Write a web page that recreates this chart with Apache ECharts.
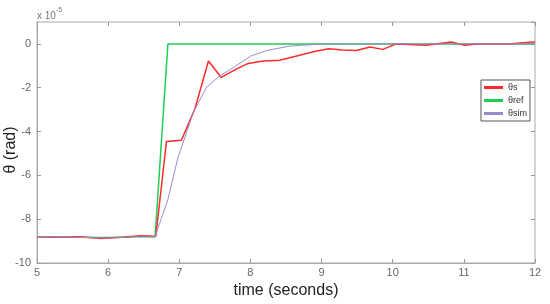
<!DOCTYPE html>
<html>
<head>
<meta charset="utf-8">
<script src="https://cdn.jsdelivr.net/npm/echarts@6/dist/echarts.min.js"></script>
<style>
  html, body { margin: 0; padding: 0; background: #fff; }
  #main { width: 550px; height: 304px; }
</style>
</head>
<body>
<div id="main"></div>
<script>
// measured traces (x10^-5 rad)
var tS = [5.0, 5.3, 5.6, 5.9, 6.2, 6.45, 6.67, 6.82, 7.03, 7.22, 7.41, 7.59, 7.8, 7.97, 8.18, 8.41, 8.65, 8.9, 9.1, 9.3, 9.49, 9.68, 9.86, 10.05, 10.47, 10.82, 11.01, 11.18, 11.62, 11.97, 12.0];
var yS = [-8.8, -8.83, -8.8, -8.88, -8.82, -8.76, -8.78, -4.45, -4.4, -2.96, -0.78, -1.53, -1.15, -0.89, -0.78, -0.75, -0.55, -0.35, -0.22, -0.28, -0.3, -0.14, -0.25, 0.0, -0.06, 0.09, -0.06, 0.0, 0.0, 0.09, 0.09];
var tRef = [5.0, 5.5, 6.0, 6.4, 6.66, 6.84, 12.0];
var yRef = [-8.8, -8.82, -8.84, -8.8, -8.8, 0, 0];
var tSim = [5.0, 5.5, 6.0, 6.4, 6.66, 6.84, 6.98, 7.2, 7.38, 7.57, 7.76, 8.0, 8.23, 8.55, 8.88, 9.3, 12.0];
var ySim = [-8.8, -8.82, -8.86, -8.8, -8.8, -7.1, -5.2, -3.11, -1.99, -1.46, -1.08, -0.56, -0.3, -0.1, -0.03, 0, 0];
var seriesNames = ['θs', 'θref', 'θsim'];
var seriesColors = ['#ff2a2a', '#1fcc55', '#9a8ccc'];

function pairs(xs, ys) {
    var out = [];
    for (var i = 0; i < xs.length; i++) out.push([xs[i], ys[i]]);
    return out;
}

var chart = echarts.init(document.getElementById('main'));
var tickColor = '#999';
var labelStyle = { color: '#666', fontSize: 11, fontFamily: 'Liberation Sans' };

var option = {
    animation: false,
    backgroundColor: '#fff',
    grid: { left: 37, right: 15, top: 22, bottom: 41, show: true, borderColor: '#aaa', borderWidth: 1, outerBoundsMode: 'none', containLabel: false },
    legend: {
        orient: 'vertical',
        left: 481, top: 80,
        itemWidth: 19, itemHeight: 3,
        itemGap: 4,
        padding: [3, 3, 3, 3],
        icon: 'rect',
        backgroundColor: '#fff',
        borderColor: '#555', borderWidth: 1,
        textStyle: { color: '#333', fontSize: 9, fontFamily: 'Liberation Sans' },
        data: seriesNames
    },
    xAxis: [{
        type: 'value', min: 5, max: 12, interval: 1,
        name: 'time (seconds)', nameLocation: 'middle', nameGap: 10,
        nameTextStyle: { color: '#222', fontSize: 16, fontFamily: 'Liberation Sans' },
        axisLine: { show: true, onZero: false, lineStyle: { color: '#aaa' } },
        axisTick: { inside: true, length: 4, lineStyle: { color: tickColor } },
        axisLabel: Object.assign({ margin: 4 }, labelStyle),
        splitLine: { show: false }
    }, {
        type: 'value', min: 5, max: 12, interval: 1, position: 'top',
        axisLine: { show: false, onZero: false },
        axisTick: { inside: true, length: 4, lineStyle: { color: tickColor } },
        axisLabel: { show: false },
        splitLine: { show: false }
    }],
    yAxis: [{
        type: 'value', min: -10, max: 1, interval: 2,
        axisLine: { show: true, onZero: false, lineStyle: { color: '#aaa' } },
        axisTick: { inside: true, length: 4, lineStyle: { color: tickColor } },
        axisLabel: Object.assign({ showMaxLabel: false, margin: 6 }, labelStyle),
        splitLine: { show: false }
    }, {
        type: 'value', min: -10, max: 1, interval: 2, position: 'right',
        axisLine: { show: false, onZero: false },
        axisTick: { inside: true, length: 4, lineStyle: { color: tickColor } },
        axisLabel: { show: false },
        splitLine: { show: false }
    }],
    graphic: [{
        type: 'text', left: 37, top: 7,
        style: {
            text: '{b|x 10}{s|-5}',
            rich: {
                b: { fontSize: 10, fill: '#777', fontFamily: 'Liberation Sans', padding: [4, 0, 0, 0] },
                s: { fontSize: 7, fill: '#777', fontFamily: 'Liberation Sans', verticalAlign: 'top' }
            }
        }
    }, {
        type: 'text', x: 11, y: 150, rotation: Math.PI / 2,
        style: {
            text: 'θ (rad)', fill: '#222', fontSize: 16, fontFamily: 'Liberation Sans',
            align: 'center', verticalAlign: 'middle'
        }
    }],
    series: [{
        name: seriesNames[0], type: 'line', showSymbol: false,
        data: pairs(tS, yS),
        lineStyle: { color: seriesColors[0], width: 1.5 },
        itemStyle: { color: seriesColors[0] }, z: 3
    }, {
        name: seriesNames[1], type: 'line', showSymbol: false,
        data: pairs(tRef, yRef),
        lineStyle: { color: seriesColors[1], width: 1.5 },
        itemStyle: { color: seriesColors[1] }, z: 2
    }, {
        name: seriesNames[2], type: 'line', showSymbol: false,
        data: pairs(tSim, ySim),
        lineStyle: { color: seriesColors[2], width: 1 },
        itemStyle: { color: seriesColors[2] }, z: 4
    }]
};
chart.setOption(option);
window.onresize = chart.resize;
</script>
</body>
</html>
